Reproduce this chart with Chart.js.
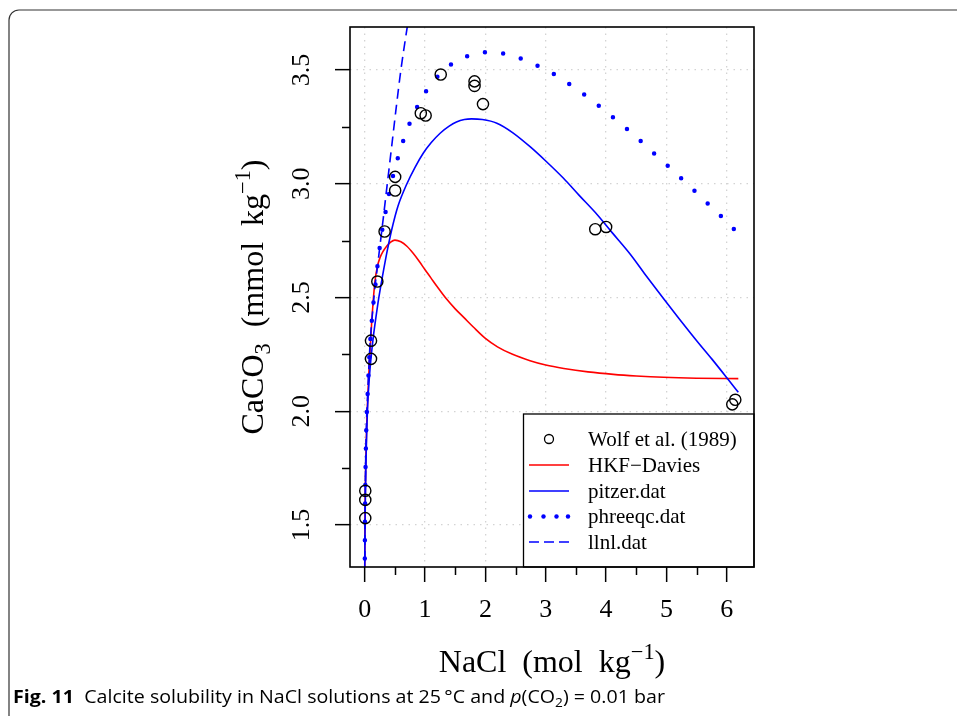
<!DOCTYPE html>
<html>
<head>
<meta charset="utf-8">
<script src="https://cdn.jsdelivr.net/npm/chart.js@4.4.1/dist/chart.umd.min.js"></script>
<style>
  html, body { margin: 0; padding: 0; background: #fff; }
  canvas { display: block; }
</style>
</head>
<body>
<canvas id="chart" width="957" height="719"></canvas>
<script>
// Wolf et al. (1989) measurements
const wolfX = [0.01, 0.01, 0.01, 0.105, 0.105, 0.21, 0.33, 0.505, 0.505, 0.93, 1.01, 1.26, 1.82, 1.82, 1.96, 3.82, 4.0, 6.09, 6.14];
const wolfY = [1.53, 1.61, 1.65, 2.23, 2.31, 2.57, 2.79, 2.97, 3.03, 3.31, 3.30, 3.48, 3.43, 3.45, 3.35, 2.80, 2.81, 2.03, 2.05];

// HKF-Davies
const hkfX = [0, 0.004, 0.01, 0.02, 0.035, 0.05, 0.07, 0.09, 0.116, 0.14, 0.17, 0.21, 0.254, 0.3, 0.364, 0.43, 0.5, 0.6, 0.7, 0.8, 0.9, 1.0, 1.1, 1.2, 1.35, 1.5, 1.65, 1.8, 2.0, 2.2, 2.45, 2.74, 3.0, 3.3, 3.7, 4.12, 4.5, 4.95, 5.5, 6.19];
const hkfY = [1.22, 1.48, 1.64, 1.8, 1.95, 2.05, 2.17, 2.27, 2.39, 2.48, 2.57, 2.635, 2.675, 2.70, 2.725, 2.743, 2.752, 2.745, 2.725, 2.695, 2.66, 2.622, 2.585, 2.548, 2.495, 2.45, 2.41, 2.37, 2.32, 2.283, 2.25, 2.222, 2.203, 2.188, 2.173, 2.162, 2.155, 2.149, 2.145, 2.143];

// pitzer.dat
const pitzerX = [0, 0.004, 0.01, 0.02, 0.035, 0.05, 0.07, 0.09, 0.115, 0.145, 0.18, 0.235, 0.3, 0.37, 0.45, 0.55, 0.7, 0.83, 0.97, 1.1, 1.25, 1.4, 1.52, 1.65, 1.77, 1.95, 2.19, 2.45, 2.74, 3.0, 3.29, 3.55, 3.85, 4.1, 4.4, 4.65, 4.95, 5.2, 5.5, 5.75, 6.0, 6.19];
const pitzerY = [1.2, 1.42, 1.58, 1.76, 1.92, 2.03, 2.12, 2.19, 2.26, 2.33, 2.40, 2.5, 2.6, 2.7, 2.8, 2.9, 3.0, 3.07, 3.134, 3.18, 3.222, 3.253, 3.271, 3.282, 3.285, 3.282, 3.266, 3.225, 3.163, 3.10, 3.025, 2.95, 2.865, 2.785, 2.69, 2.60, 2.495, 2.41, 2.31, 2.23, 2.147, 2.083];

// phreeqc.dat
const phreeqcX = [0, 0.004, 0.01, 0.017, 0.025, 0.035, 0.05, 0.065, 0.088, 0.116, 0.143, 0.176, 0.204, 0.242, 0.287, 0.342, 0.397, 0.464, 0.54, 0.63, 0.734, 0.86, 1.005, 1.19, 1.41, 1.68, 1.977, 2.276, 2.575, 2.85, 3.12, 3.38, 3.63, 3.87, 4.11, 4.34, 4.57, 4.79, 5.02, 5.24, 5.46, 5.68, 5.90, 6.13];
const phreeqcY = [1.2, 1.46, 1.66, 1.79, 1.9, 1.99, 2.08, 2.17, 2.29, 2.39, 2.47, 2.55, 2.62, 2.705, 2.79, 2.87, 2.948, 3.028, 3.104, 3.182, 3.258, 3.332, 3.402, 3.466, 3.52, 3.559, 3.578, 3.573, 3.551, 3.52, 3.484, 3.44, 3.393, 3.345, 3.293, 3.242, 3.188, 3.134, 3.079, 3.025, 2.97, 2.914, 2.858, 2.797];

// llnl.dat
const llnlX = [0, 0.004, 0.01, 0.017, 0.025, 0.035, 0.05, 0.065, 0.088, 0.116, 0.143, 0.176, 0.2, 0.25, 0.3, 0.375, 0.45, 0.525, 0.6, 0.7, 0.76];
const llnlY = [1.2, 1.46, 1.66, 1.79, 1.9, 1.99, 2.08, 2.17, 2.29, 2.39, 2.47, 2.56, 2.61, 2.72, 2.83, 3.0, 3.17, 3.34, 3.5, 3.68, 3.78];

const xTicks = [0, 1, 2, 3, 4, 5, 6];
const xMinor = [0.5, 1.5, 2.5, 3.5, 4.5, 5.5];
const yTicks = [1.5, 2.0, 2.5, 3.0, 3.5];
const yMinor = [1.75, 2.25, 2.75, 3.25];

const legendLabels = ['Wolf et al. (1989)', 'HKF\u2212Davies', 'pitzer.dat', 'phreeqc.dat', 'llnl.dat'];

const SERIF = '"Liberation Serif", "Times New Roman", serif';
const SANS = '"Open Sans", "Noto Sans", sans-serif';

function pts(xs, ys) {
  return xs.map((x, i) => ({ x: x, y: ys[i] }));
}

// draw text made of parts (normal / sub / sup, optional bold/italic)
function partFont(p, size, family) {
  let s = p.k ? size * 0.7 : size;
  return (p.i ? 'italic ' : '') + (p.b ? 'bold ' : '') + s + 'px ' + family;
}
function richWidth(ctx, parts, size, family) {
  let w = 0;
  parts.forEach(p => { ctx.font = partFont(p, size, family); w += ctx.measureText(p.t).width; });
  return w;
}
function drawRich(ctx, parts, x, y, size, family, align, rot, fitW) {
  ctx.save();
  ctx.translate(x, y);
  if (rot) ctx.rotate(rot);
  let w = richWidth(ctx, parts, size, family);
  if (fitW) { ctx.scale(fitW / w, 1); }
  let cx = align === 'center' ? -w / 2 : 0;
  ctx.textAlign = 'left';
  ctx.textBaseline = 'alphabetic';
  ctx.fillStyle = '#000';
  parts.forEach(p => {
    ctx.font = partFont(p, size, family);
    let dy = p.k === -1 ? size * 0.22 : (p.k === 1 ? -size * 0.42 : 0);
    ctx.fillText(p.t, cx, dy);
    cx += ctx.measureText(p.t).width;
  });
  ctx.restore();
}

const extras = {
  id: 'extras',
  beforeDraw(chart) {
    const ctx = chart.ctx;
    ctx.save();
    ctx.fillStyle = '#fff';
    ctx.fillRect(0, 0, chart.width, chart.height);
    ctx.restore();
  },
  afterDatasetsDraw(chart) {
    const ctx = chart.ctx;
    const a = chart.chartArea;
    const xs = chart.scales.x, ys = chart.scales.y;

    // legend (bottom right)
    const lx = 523.5, ly = 414, lw = a.right - lx, lh = a.bottom - ly;
    ctx.save();
    ctx.fillStyle = '#fff';
    ctx.fillRect(lx, ly, lw, lh);
    ctx.strokeStyle = '#000';
    ctx.lineWidth = 1.3;
    ctx.strokeRect(lx, ly, lw, lh);
    const rowY = [439, 465, 491, 516.5, 542];
    const s1 = 529, s2 = 569, tx = 588;
    ctx.font = '21px ' + SERIF;
    ctx.fillStyle = '#000';
    ctx.textBaseline = 'middle';
    ctx.textAlign = 'left';
    legendLabels.forEach((t, i) => ctx.fillText(t, tx, rowY[i] + 1));
    ctx.beginPath();
    ctx.arc(549, rowY[0], 4.5, 0, Math.PI * 2);
    ctx.lineWidth = 1.3;
    ctx.stroke();
    ctx.lineWidth = 1.6;
    ctx.strokeStyle = '#ff0000';
    ctx.beginPath(); ctx.moveTo(s1, rowY[1]); ctx.lineTo(s2, rowY[1]); ctx.stroke();
    ctx.strokeStyle = '#0000ff';
    ctx.beginPath(); ctx.moveTo(s1, rowY[2]); ctx.lineTo(s2, rowY[2]); ctx.stroke();
    ctx.fillStyle = '#0000ff';
    [530, 543.5, 556.5, 568].forEach(d => { ctx.beginPath(); ctx.arc(d, rowY[3], 2.2, 0, Math.PI * 2); ctx.fill(); });
    ctx.setLineDash([10, 5]);
    ctx.beginPath(); ctx.moveTo(s1, rowY[4]); ctx.lineTo(s2, rowY[4]); ctx.stroke();
    ctx.setLineDash([]);

    // plot box
    ctx.strokeStyle = '#000';
    ctx.lineWidth = 1.6;
    ctx.strokeRect(a.left, a.top, a.right - a.left, a.bottom - a.top);

    // minor ticks
    ctx.lineWidth = 1.5;
    ctx.beginPath();
    xMinor.forEach(v => {
      const px = Math.round(xs.getPixelForValue(v)) + 0.5;
      ctx.moveTo(px, a.bottom); ctx.lineTo(px, a.bottom + 8);
    });
    yMinor.forEach(v => {
      const py = Math.round(ys.getPixelForValue(v)) + 0.5;
      ctx.moveTo(a.left, py); ctx.lineTo(a.left - 8, py);
    });
    ctx.stroke();
    ctx.restore();
  },
  afterDraw(chart) {
    const ctx = chart.ctx;
    const a = chart.chartArea;

    // axis titles
    drawRich(ctx, [{ t: 'NaCl  (mol  kg' }, { t: '\u22121', k: 1 }, { t: ')' }],
      (a.left + a.right) / 2, 672, 32, SERIF, 'center');
    drawRich(ctx, [{ t: 'CaCO' }, { t: '3', k: -1 }, { t: '  (mmol  kg' }, { t: '\u22121', k: 1 }, { t: ')' }],
      263, (a.top + a.bottom) / 2, 32, SERIF, 'center', -Math.PI / 2);

    // caption
    drawRich(ctx, [
      { t: 'Fig. 11', b: true },
      { t: '  Calcite solubility in NaCl solutions at 25\u2009\u00b0C and ' },
      { t: 'p', i: true },
      { t: '(CO' }, { t: '2', k: -1 }, { t: ') = 0.01 bar' }
    ], 13, 703, 18, SANS, 'left', 0, 652);

    // page frame
    ctx.save();
    ctx.strokeStyle = '#333';
    ctx.lineWidth = 1.2;
    ctx.beginPath();
    ctx.moveTo(9, 716);
    ctx.lineTo(9, 20);
    ctx.arcTo(9, 10, 19, 10, 10);
    ctx.lineTo(960, 10);
    ctx.stroke();
    ctx.restore();
  }
};

const noPad = s => { s.paddingTop = 0; s.paddingBottom = 0; s.paddingLeft = 0; s.paddingRight = 0; };

const ctx = document.getElementById('chart').getContext('2d');
const chart = new Chart(ctx, {
  type: 'scatter',
  data: {
    datasets: [
      {
        label: legendLabels[0],
        data: pts(wolfX, wolfY),
        order: 0,
        showLine: false,
        pointRadius: 5.6,
        pointBorderWidth: 1.4,
        pointBorderColor: '#000',
        pointBackgroundColor: 'rgba(0,0,0,0)'
      },
      {
        label: legendLabels[1],
        type: 'line',
        data: pts(hkfX, hkfY),
        order: 4,
        borderColor: '#ff0000',
        borderWidth: 1.6,
        pointRadius: 0,
        cubicInterpolationMode: 'monotone',
        fill: false,
        clip: 0
      },
      {
        label: legendLabels[2],
        type: 'line',
        data: pts(pitzerX, pitzerY),
        order: 3,
        borderColor: '#0000ff',
        borderWidth: 1.6,
        pointRadius: 0,
        cubicInterpolationMode: 'monotone',
        fill: false,
        clip: 0
      },
      {
        label: legendLabels[3],
        type: 'line',
        data: pts(phreeqcX, phreeqcY),
        order: 2,
        borderColor: '#0000ff',
        borderWidth: 4.5,
        borderDash: [0, 18.3],
        borderDashOffset: 2,
        borderCapStyle: 'round',
        pointRadius: 0,
        cubicInterpolationMode: 'monotone',
        fill: false,
        clip: 0
      },
      {
        label: legendLabels[4],
        type: 'line',
        data: pts(llnlX, llnlY),
        order: 1,
        borderColor: '#0000ff',
        borderWidth: 1.6,
        borderDash: [10, 6],
        pointRadius: 0,
        cubicInterpolationMode: 'monotone',
        fill: false,
        clip: 0
      }
    ]
  },
  options: {
    responsive: false,
    animation: false,
    devicePixelRatio: 1,
    layout: { padding: { top: 27, right: 203, bottom: 0, left: 0 } },
    plugins: { legend: { display: false }, tooltip: { enabled: false } },
    scales: {
      x: {
        type: 'linear',
        min: -0.243,
        max: 6.45,
        afterBuildTicks: s => { s.ticks = xTicks.map(v => ({ value: v })); },
        afterFit: s => { s.height = 152; noPad(s); },
        grid: { color: '#d3d3d3', lineWidth: 1.3, tickColor: '#000', tickLength: 15, tickWidth: 1.5 },
        border: { display: false, dash: [1.5, 5] },
        ticks: {
          color: '#000',
          padding: 13,
          maxRotation: 0,
          font: { family: SERIF, size: 26 },
          callback: v => String(v)
        }
      },
      y: {
        type: 'linear',
        min: 1.315,
        max: 3.689,
        afterBuildTicks: s => { s.ticks = yTicks.map(v => ({ value: v })); },
        afterFit: s => { s.width = 350; noPad(s); },
        grid: { color: '#d3d3d3', lineWidth: 1.3, tickColor: '#000', tickLength: 15, tickWidth: 1.5 },
        border: { display: false, dash: [1.5, 5] },
        ticks: {
          color: '#000',
          padding: 17,
          minRotation: 90,
          maxRotation: 90,
          crossAlign: 'center',
          font: { family: SERIF, size: 26 },
          callback: v => v.toFixed(1)
        }
      }
    }
  },
  plugins: [extras]
});
</script>
</body>
</html>
